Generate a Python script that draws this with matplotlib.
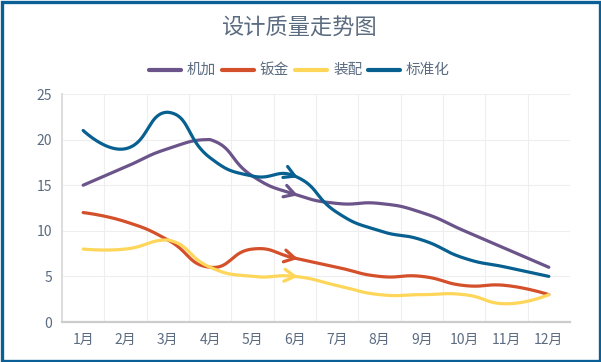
import numpy as np
import matplotlib
matplotlib.use("Agg")
import matplotlib.pyplot as plt
from matplotlib.lines import Line2D
from matplotlib.patches import Rectangle

plt.rcParams['font.family'] = ['Noto Sans CJK SC', 'DejaVu Sans']

title = "设计质量走势图"
months = ["1月", "2月", "3月", "4月", "5月", "6月", "7月", "8月", "9月", "10月", "11月", "12月"]
series_names = ["机加", "钣金", "装配", "标准化"]
jijia = [15, 17, 19, 20, 16, 14, 13, 13, 12, 10, 8, 6]
banjin = [12, 11, 9, 6, 8, 7, 6, 5, 5, 4, 4, 3]
zhuangpei = [8, 8, 9, 6, 5, 5, 4, 3, 3, 3, 2, 3]
biaozhun = [21, 19, 23, 18, 16, 16, 12, 10, 9, 7, 6, 5]
series_values = [jijia, banjin, zhuangpei, biaozhun]
colors = ["#6b5489", "#d4502a", "#fdd65a", "#086091"]
yticks = [0, 5, 10, 15, 20, 25]
arrow_index = 5

W, H = 601, 362
fig = plt.figure(figsize=(W / 100, H / 100), dpi=100)
fig.patch.set_facecolor("white")

L, R, T, B = 62, 570, 94, 322
ax = fig.add_axes([L / W, 1 - B / H, (R - L) / W, (B - T) / H])
ax.set_xlim(-0.5, len(months) - 0.5)
ax.set_ylim(0, 25)

sx = (R - L) / len(months)
sy = (B - T) / 25.0

txtc = "#5b6b80"

# grid
for k in range(len(months) + 1):
    ax.axvline(k - 0.5, color="#eeeeee", lw=0.8, zorder=0)
for v in yticks[1:]:
    ax.axhline(v, color="#eeeeee", lw=0.8, zorder=0)
for s in ["top", "right"]:
    ax.spines[s].set_visible(False)
ax.spines["bottom"].set_color("#cccccc")
ax.spines["bottom"].set_linewidth(1.6)
ax.spines["left"].set_color("#dddddd")
ax.spines["left"].set_linewidth(1.4)

ax.set_xticks(range(len(months)))
ax.set_xticklabels(months)
ax.set_yticks(yticks)
ax.tick_params(axis="both", length=0, labelsize=10, colors=txtc)
ax.tick_params(axis="x", pad=8)
ax.tick_params(axis="y", pad=7)


def smooth_path(xs, ys, smooth=0.5):
    # Catmull-style bezier smoothing in pixel space with bounding-box constraint
    P = np.column_stack([np.array(xs, float) * sx, np.array(ys, float) * sy])
    n = len(P)
    pmin = P.min(axis=0)
    pmax = P.max(axis=0)
    cin = [P[i].copy() for i in range(n)]
    cout = [P[i].copy() for i in range(n)]
    for i in range(1, n - 1):
        v = (P[i + 1] - P[i - 1])
        lp = np.hypot(*(P[i] - P[i - 1]))
        ln = np.hypot(*(P[i + 1] - P[i]))
        r = ln / (ln + lp)
        cin[i] = np.clip(P[i] - v * smooth * (1 - r), pmin, pmax)
        cout[i] = np.clip(P[i] + v * smooth * r, pmin, pmax)
    pts = []
    t = np.linspace(0, 1, 40)[:, None]
    for i in range(n - 1):
        p0, p1, p2, p3 = P[i], cout[i], cin[i + 1], P[i + 1]
        seg = (1 - t) ** 3 * p0 + 3 * (1 - t) ** 2 * t * p1 + 3 * (1 - t) * t ** 2 * p2 + t ** 3 * p3
        pts.append(seg if i == 0 else seg[1:])
    pts = np.vstack(pts)
    tang = cout[arrow_index] - cin[arrow_index]
    return pts[:, 0] / sx, pts[:, 1] / sy, tang


xs = np.arange(len(months))
lw = 2.3
for vals, c in zip(series_values, colors):
    px, py, tang = smooth_path(xs, vals)
    ax.plot(px, py, color=c, lw=lw, solid_capstyle="round", zorder=3, clip_on=False)
    # chevron arrow at the 6th point
    ang = np.arctan2(tang[1], tang[0])
    tipx, tipy = xs[arrow_index], vals[arrow_index]
    alen = 12.0
    for d in (np.pi - 0.52, np.pi + 0.52):
        ex = tipx + alen * np.cos(ang + d) / sx
        ey = tipy + alen * np.sin(ang + d) / sy
        ax.plot([ex, tipx], [ey, tipy], color=c, lw=lw, solid_capstyle="round", zorder=3)

# title
fig.text(299 / W, 1 - 28 / H, title, ha="center", va="center", fontsize=16, color=txtc)

# legend
handle_x = [147, 220, 293, 366]
ly = 1 - 70 / H
for hx, name, c in zip(handle_x, series_names, colors):
    fig.add_artist(Line2D([(hx + 2) / W, (hx + 34) / W], [ly, ly], color=c, lw=3.0,
                          solid_capstyle="round", transform=fig.transFigure))
    fig.text((hx + 40) / W, ly, name, ha="left", va="center", fontsize=10.5, color=txtc)

# border
fig.add_artist(Rectangle((1.5 / W, 1.5 / H), (W - 3) / W, (H - 3) / H, fill=False,
                         edgecolor="#0a6096", lw=2.4, transform=fig.transFigure))

fig.savefig("out.png", dpi=100, facecolor="white")
